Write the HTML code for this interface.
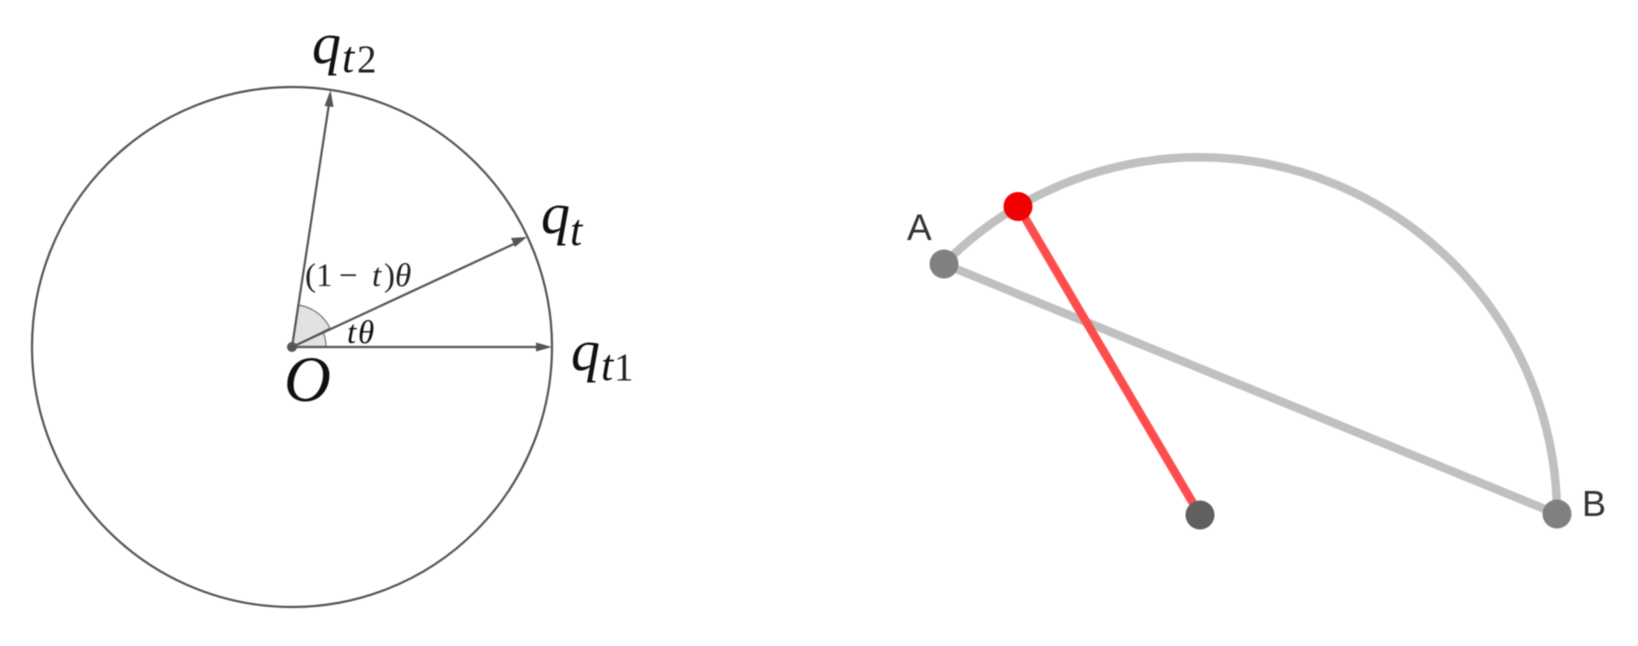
<!DOCTYPE html>
<html>
<head>
<meta charset="utf-8">
<style>
html,body{margin:0;padding:0;background:#fff;width:1638px;height:646px;overflow:hidden}
svg{display:block;filter:blur(0.6px)}
.m{font-family:"Liberation Serif",serif;font-style:italic;fill:#111}
.r{font-family:"Liberation Serif",serif;fill:#222}
.s{font-family:"Liberation Sans",sans-serif;fill:#333}
</style>
</head>
<body>
<svg width="1638" height="646" viewBox="0 0 1638 646" xmlns="http://www.w3.org/2000/svg">
<rect width="1638" height="646" fill="#fff"/>
<!-- left diagram -->
<circle cx="292" cy="347" r="260" fill="none" stroke="#555" stroke-width="2.2"/>
<path d="M292 347 L326 347 A34 34 0 0 0 323 332 Z" fill="#e2e2e2" stroke="#777" stroke-width="1.2"/>
<path d="M292 347 L330 328 A42 42 0 0 0 298 305 Z" fill="#e2e2e2" stroke="#777" stroke-width="1.2"/>
<g stroke="#555" stroke-width="2.2" fill="none">
<line x1="292" y1="347" x2="542" y2="347"/>
<line x1="292" y1="347" x2="516" y2="243"/>
<line x1="292" y1="347" x2="329" y2="104"/>
</g>
<g fill="#555">
<polygon points="552,347 536,342.500 536,351.500"/>
<polygon points="527,237 511,238 515,247"/>
<polygon points="330.500,90 324.500,106 333.500,107"/>
</g>
<circle cx="292" cy="347" r="5" fill="#555"/>
<text class="m" x="312" y="63" font-size="58">q</text>
<text class="m" x="342" y="72" font-size="44">t</text>
<text class="r" x="357" y="72" font-size="39">2</text>
<text class="m" x="541" y="233" font-size="58">q</text>
<text class="m" x="570" y="245" font-size="44">t</text>
<text class="m" x="571" y="370" font-size="58">q</text>
<text class="m" x="601" y="380" font-size="44">t</text>
<text class="r" x="614" y="380" font-size="39">1</text>
<text class="m" x="284" y="401" font-size="65">O</text>
<text class="r" y="286" font-size="33"><tspan x="305">(</tspan><tspan x="316">1</tspan><tspan x="339">−</tspan><tspan x="372" font-style="italic">t</tspan><tspan x="384">)</tspan><tspan x="395" font-style="italic">θ</tspan></text>
<text class="m" y="343" font-size="33"><tspan x="347">t</tspan><tspan x="358">θ</tspan></text>
<!-- right diagram -->
<path d="M944 264 A358 358 0 0 1 1557 514" fill="none" stroke="#c0c0c0" stroke-width="8.500"/>
<line x1="944" y1="264" x2="1557" y2="514" stroke="#c0c0c0" stroke-width="8.500"/>
<line x1="1018" y1="206" x2="1200" y2="515" stroke="#ff4d4d" stroke-width="8.500"/>
<circle cx="944" cy="264" r="14.500" fill="#808080"/>
<circle cx="1557" cy="514" r="14.500" fill="#808080"/>
<circle cx="1200" cy="515" r="14.500" fill="#606060"/>
<circle cx="1018" cy="206.500" r="14.500" fill="#f00000"/>
<text class="s" x="907" y="240" font-size="37">A</text>
<text class="s" x="1582" y="516" font-size="36">B</text>
</svg>
</body>
</html>
